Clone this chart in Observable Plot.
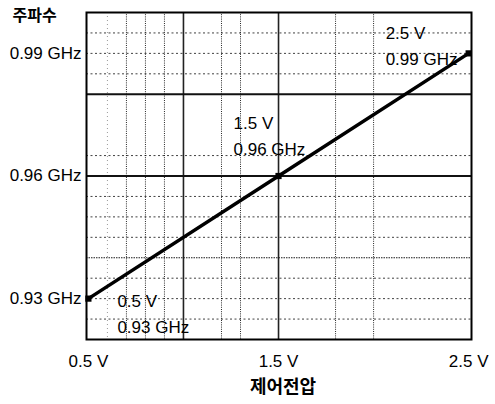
<!DOCTYPE html>
<html><head><meta charset="utf-8">
<script src="https://cdn.jsdelivr.net/npm/d3@7"></script>
<script src="https://cdn.jsdelivr.net/npm/@observablehq/plot@0.6"></script>
<style>body{margin:0;background:#fff}</style>
</head><body><div id="chart"></div>
<script>
const voltages = [0.5, 1.5, 2.5];
const frequencies = [0.93, 0.96, 0.99];
const xTicks = [0.5, 1.5, 2.5];
const yTicks = [0.93, 0.96, 0.99];
const gridXMinor = [0.7, 0.8, 0.9, 1.2, 1.3, 1.8, 2.0];
const gridXFaint = [0.6];
const gridXMajor = [1.0, 1.5];
const gridYMinor = [0.925, 0.93, 0.935, 0.945, 0.95, 0.955, 0.965, 0.985, 0.99, 0.995];
const gridYMid = [0.94];
const gridYMajor = [0.98, 0.96];
const yLabel = "주파수";
const xLabel = "제어전압";

const data = voltages.map((v, i) => ({v, f: frequencies[i], label: `${v.toFixed(1)} V\n${frequencies[i].toFixed(2)} GHz`}));
const offsets = [[29, 13], [-45, -42], [-83, -9.5]];
const sans = "'Liberation Sans', Arial, sans-serif";
const kr = "'Noto Sans CJK KR', 'Noto Sans', sans-serif";
const fs = 17;

const chart = Plot.plot({
  width: 495,
  height: 404,
  marginLeft: 86,
  marginRight: 24,
  marginTop: 12,
  marginBottom: 65,
  style: {fontFamily: sans, fontSize: fs + "px", background: "#fff", color: "#000"},
  x: {domain: [0.49, 2.515]},
  y: {domain: [0.92, 1.0]},
  marks: [
    Plot.ruleX(gridXFaint, {stroke: "#000", strokeOpacity: 0.4, strokeDasharray: "1,3"}),
    Plot.ruleX(gridXMinor, {stroke: "#000", strokeOpacity: 0.85, strokeDasharray: "1,1.2"}),
    Plot.ruleY(gridYMinor, {stroke: "#000", strokeOpacity: 0.75, strokeDasharray: "2,2.5"}),
    Plot.ruleY(gridYMid, {stroke: "#000", strokeOpacity: 0.9, strokeDasharray: "1.5,1"}),
    Plot.ruleX(gridXMajor, {stroke: "#222", strokeWidth: 1.6}),
    Plot.ruleY(gridYMajor, {stroke: "#111", strokeWidth: 1.8}),
    Plot.frame({stroke: "#000", strokeWidth: 2}),
    Plot.axisX({ticks: xTicks, tickFormat: d => `${d.toFixed(1)} V`, tickSize: 0, tickPadding: 15, label: null, fontSize: fs}),
    Plot.axisY({ticks: yTicks, tickFormat: d => `${d.toFixed(2)} GHz`, tickSize: 0, tickPadding: 5, label: null, fontSize: fs}),
    Plot.line(data, {x: "v", y: "f", stroke: "#000", strokeWidth: 3.5}),
    Plot.dot(data, {x: "v", y: "f", symbol: "square", r: 3.5, fill: "#000"}),
    ...data.map((d, i) => Plot.text([d], {x: "v", y: "f", text: "label", textAnchor: "start", lineAnchor: "middle", lineHeight: 1.5, dx: offsets[i][0], dy: offsets[i][1], fontSize: fs, fill: "#000"})),
    Plot.text([yLabel], {frameAnchor: "top-left", text: d => d, dx: -74, dy: 3, textAnchor: "start", lineAnchor: "middle", fontFamily: kr, fontWeight: "bold", fontSize: 16, fill: "#000"}),
    Plot.text([xLabel], {frameAnchor: "bottom", text: d => d, dx: 4, dy: 48, lineAnchor: "middle", fontFamily: kr, fontWeight: "bold", fontSize: 18, fill: "#000"})
  ]
});
document.getElementById("chart").appendChild(chart);
</script>
</body></html>
